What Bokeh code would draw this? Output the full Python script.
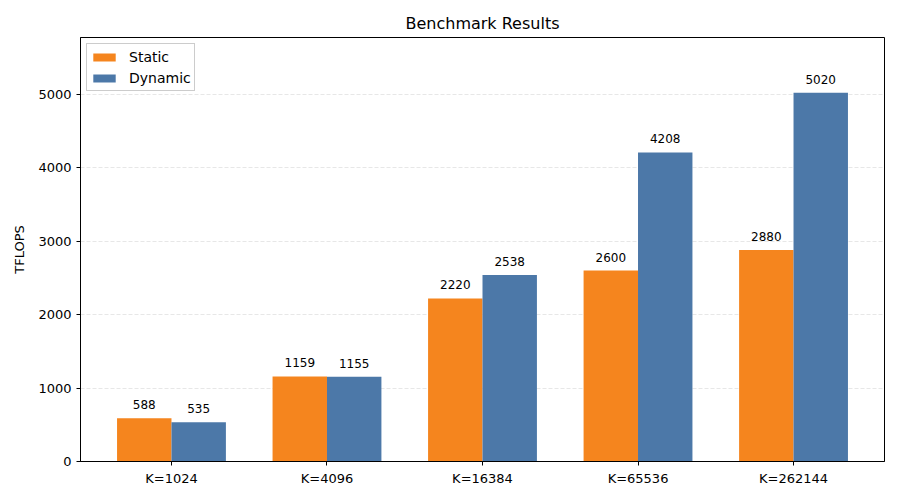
from bokeh.plotting import figure
from bokeh.models import ColumnDataSource, FixedTicker, Legend, LegendItem, LabelSet, Range1d
from bokeh.core.properties import value
from bokeh.embed import file_html
from bokeh.resources import INLINE

categories = ["K=1024", "K=4096", "K=16384", "K=65536", "K=262144"]
static_vals = [588, 1159, 2220, 2600, 2880]
dynamic_vals = [535, 1155, 2538, 4208, 5020]

width = 0.35
xs = list(range(len(categories)))
FONT = "DejaVu Sans"

p = figure(width=900, height=500, output_backend="svg", toolbar_location=None,
           x_range=Range1d(-0.585, len(categories) - 1 + 0.585),
           y_range=Range1d(0, max(dynamic_vals) * 1.15),
           title="Benchmark Results",
           min_border_left=80, min_border_right=16, min_border_top=37, min_border_bottom=39)

p.title.align = "center"
p.title.text_font = FONT
p.title.text_font_size = "16px"
p.title.text_font_style = "normal"
p.title.text_color = "#000000"
p.title.standoff = 10

src_s = ColumnDataSource(dict(x=[i - width / 2 for i in xs], top=static_vals,
                              lab=[str(v) for v in static_vals]))
src_d = ColumnDataSource(dict(x=[i + width / 2 for i in xs], top=dynamic_vals,
                              lab=[str(v) for v in dynamic_vals]))

r1 = p.vbar(x="x", top="top", width=width, source=src_s, fill_color="#F5851E", line_color=None)
r2 = p.vbar(x="x", top="top", width=width, source=src_d, fill_color="#4C78A8", line_color=None)

for src in (src_s, src_d):
    p.add_layout(LabelSet(x="x", y="top", text="lab", source=src, text_align="center",
                          text_baseline="bottom", y_offset=9, text_font=value(FONT),
                          text_font_size="12px", text_color="#000000"))

p.xaxis.ticker = FixedTicker(ticks=xs)
p.xaxis.major_label_overrides = {i: c for i, c in enumerate(categories)}
p.yaxis.ticker = FixedTicker(ticks=[0, 1000, 2000, 3000, 4000, 5000])
p.yaxis.axis_label = "TFLOPS"
p.yaxis.axis_label_text_font = FONT
p.yaxis.axis_label_text_font_size = "13px"
p.yaxis.axis_label_text_font_style = "normal"
p.yaxis.axis_label_text_color = "#000000"
p.yaxis.axis_label_standoff = 8

for ax in (p.xaxis[0], p.yaxis[0]):
    ax.major_label_text_font = FONT
    ax.major_label_text_font_size = "13px"
    ax.major_label_text_color = "#000000"
    ax.axis_line_color = "#000000"
    ax.major_tick_line_color = "#000000"
    ax.major_tick_out = 4
    ax.major_tick_in = 0
    ax.minor_tick_line_color = None

p.outline_line_color = "#000000"
p.outline_line_width = 1
p.xgrid.grid_line_color = None
p.ygrid.grid_line_color = "#b0b0b0"
p.ygrid.grid_line_alpha = 0.3
p.ygrid.grid_line_dash = "4 2"

legend = Legend(items=[LegendItem(label="Static", renderers=[r1]),
                       LegendItem(label="Dynamic", renderers=[r2])],
                location="top_left")
legend.label_text_font = FONT
legend.label_text_font_size = "14px"
legend.label_text_color = "#000000"
legend.border_line_color = "#cccccc"
legend.border_line_alpha = 1
legend.background_fill_alpha = 0.8
legend.margin = 6
legend.padding = 3
legend.spacing = 2
legend.glyph_width = 28
legend.glyph_height = 10
legend.label_standoff = 11
legend.label_height = 19
p.add_layout(legend)

open("out.html", "w").write(file_html(p, INLINE))
